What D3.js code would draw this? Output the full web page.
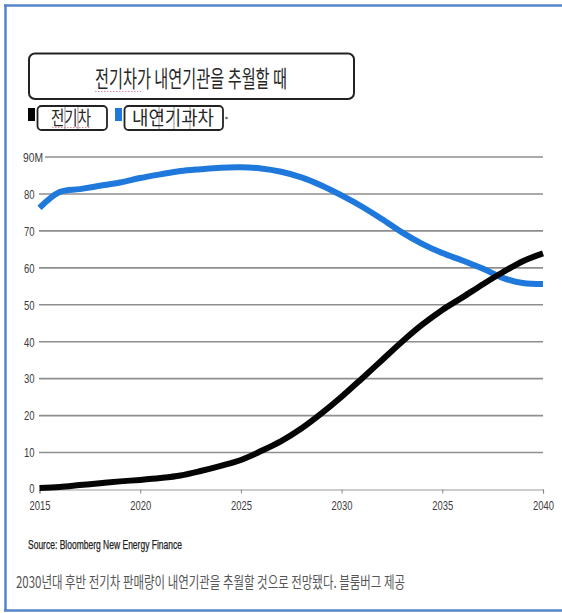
<!DOCTYPE html>
<html>
<head>
<meta charset="utf-8">
<script src="https://cdn.jsdelivr.net/npm/d3@7"></script>
<style>
  html, body { margin: 0; padding: 0; background: #fff; }
  svg { display: block; }
</style>
</head>
<body>
<script>
// Annual sales, millions of vehicles
const years = d3.range(2015, 2041);
const evSales = [0.4, 0.7, 1.2, 1.7, 2.2, 2.6, 3.1, 3.8, 5.0, 6.4, 8.0, 10.4, 13.1,
  16.5, 20.6, 25.1, 30.0, 35.0, 40.0, 44.6, 48.6, 52.0, 55.5, 58.8, 61.8, 63.9];
const iceSales = [76.2, 80.5, 81.3, 82.2, 83.1, 84.3, 85.3, 86.2, 86.7, 87.1, 87.2, 86.9, 86.0,
  84.5, 82.3, 79.6, 76.6, 73.2, 69.6, 66.5, 64.0, 62.0, 59.8, 57.3, 55.9, 55.6];
const yTicks = [0, 10, 20, 30, 40, 50, 60, 70, 80, 90];
const xTicks = [2015, 2020, 2025, 2030, 2035, 2040];
const seriesNames = ["전기차", "내연기과차"];
const title = "전기차가 내연기관을 추월할 때";
const source = "Source: Bloomberg New Energy Finance";
const caption = "2030년대 후반 전기차 판매량이 내연기관을 추월할 것으로 전망됐다. 블룸버그 제공";

const W = 562, H = 613;
const EV_COLOR = "#050505", ICE_COLOR = "#1f78dc";
const AXIS_FONT = "'Liberation Sans', Arial, sans-serif";
const KR_FONT = "'Noto Sans CJK KR', 'Noto Sans', sans-serif";

const svg = d3.select("body").append("svg").attr("width", W).attr("height", H);

// frame
const frame = svg.append("g").attr("stroke", "#5585c6").attr("fill", "none");
frame.append("line").attr("x1", 4).attr("x2", W).attr("y1", 5.5).attr("y2", 5.5).attr("stroke-width", 2.5);
frame.append("line").attr("x1", 5.5).attr("x2", 5.5).attr("y1", 4.5).attr("y2", 611).attr("stroke-width", 2.5);
frame.append("line").attr("x1", 4).attr("x2", W).attr("y1", 610.5).attr("y2", 610.5).attr("stroke-width", 2.5);

// title box
svg.append("rect").attr("x", 29).attr("y", 53.5).attr("width", 325).attr("height", 45.5)
  .attr("rx", 6).attr("fill", "#fff").attr("stroke", "#222").attr("stroke-width", 2);
svg.append("text").attr("x", 95).attr("y", 87).attr("font-family", KR_FONT)
  .attr("font-size", 23).attr("fill", "#262626")
  .attr("textLength", 192).attr("lengthAdjust", "spacingAndGlyphs").text(title);
// spell-check squiggle under the first word
svg.append("line").attr("x1", 95).attr("x2", 141).attr("y1", 91.5).attr("y2", 91.5)
  .attr("stroke", "#d98a95").attr("stroke-width", 1.2).attr("stroke-dasharray", "1.5,1.5");

// legend
const legend = [
  { name: seriesNames[0], color: EV_COLOR, sq: 28, box: [37.5, 107], text: [51, 40], bars: [65, 78] },
  { name: seriesNames[1], color: ICE_COLOR, sq: 115, box: [124.5, 223], text: [132, 82], bars: [159, 174, 190] }
];
legend.forEach(d => {
  svg.append("rect").attr("x", d.sq).attr("y", 108).attr("width", 7).attr("height", 13).attr("fill", d.color);
  svg.append("rect").attr("x", d.box[0]).attr("y", 106).attr("width", d.box[1] - d.box[0]).attr("height", 24)
    .attr("rx", 4).attr("fill", "#fff").attr("stroke", "#222").attr("stroke-width", 1.8);
  d.bars.forEach(bx => svg.append("line").attr("x1", bx).attr("x2", bx).attr("y1", 107).attr("y2", 129)
    .attr("stroke", "#777").attr("stroke-width", 0.8));
  svg.append("text").attr("x", d.text[0]).attr("y", 125).attr("font-family", KR_FONT)
    .attr("font-size", 19).attr("fill", "#262626")
    .attr("textLength", d.text[1]).attr("lengthAdjust", "spacingAndGlyphs").text(d.name);
});
svg.append("line").attr("x1", 52).attr("x2", 90).attr("y1", 127.5).attr("y2", 127.5)
  .attr("stroke", "#d98a95").attr("stroke-width", 1).attr("stroke-dasharray", "1.5,1.5");
svg.append("circle").attr("cx", 226.5).attr("cy", 118).attr("r", 1.3).attr("fill", "#666");

// scales
const x = d3.scaleLinear().domain([2015, 2040]).range([39.5, 543]);
const y = d3.scaleLinear().domain([0, 90]).range([489.5, 157]);

// gridlines
const grid = svg.append("g");
grid.selectAll("line").data(yTicks.filter(t => t > 0)).join("line")
  .attr("x1", t => t === 90 ? 45 : 39).attr("x2", x(2040))
  .attr("y1", t => y(t)).attr("y2", t => y(t))
  .attr("stroke", "#8e8e8e").attr("stroke-width", 1.6);

// y labels (top label carries the unit)
const yLab = svg.append("g").attr("font-family", AXIS_FONT).attr("font-size", 13.5).attr("fill", "#3c3c3c");
yTicks.forEach(t => {
  const top = t === 90;
  const s = top ? t + "M" : String(t);
  yLab.append("text")
    .attr("x", top ? 23 : 34.5).attr("y", y(t) + (t === 0 ? 3.5 : 4.8))
    .attr("text-anchor", top ? "start" : "end")
    .attr("textLength", top ? 20 : s.length * 5.3).attr("lengthAdjust", "spacingAndGlyphs").text(s);
});

// x axis
const xAxis = d3.axisBottom(x).tickValues(xTicks).tickFormat(d3.format("d")).tickSize(4).tickPadding(7);
const gx = svg.append("g").attr("transform", `translate(0,${y(0)})`).call(xAxis);
gx.select(".domain").attr("stroke", "#9a9a9a").attr("stroke-width", 1.2);
gx.selectAll(".tick line").attr("stroke", "#888").attr("stroke-width", 1);
gx.selectAll(".tick text").attr("font-family", AXIS_FONT).attr("font-size", 13.5).attr("fill", "#3c3c3c")
  .attr("textLength", 21).attr("lengthAdjust", "spacingAndGlyphs");

// series
const line = d3.line().x((d, i) => x(years[i])).y(d => y(d)).curve(d3.curveCatmullRom.alpha(0.5));
svg.append("path").datum(iceSales).attr("d", line).attr("fill", "none")
  .attr("stroke", ICE_COLOR).attr("stroke-width", 6).attr("stroke-linejoin", "round");
svg.append("path").datum(evSales).attr("d", line).attr("fill", "none")
  .attr("stroke", EV_COLOR).attr("stroke-width", 6).attr("stroke-linejoin", "round");

// source and caption
svg.append("text").attr("x", 28).attr("y", 549).attr("font-family", AXIS_FONT)
  .attr("font-size", 12).attr("fill", "#1e1e1e").attr("stroke", "#1e1e1e").attr("stroke-width", 0.25)
  .attr("textLength", 154).attr("lengthAdjust", "spacingAndGlyphs").text(source);
svg.append("text").attr("x", 16).attr("y", 588).attr("font-family", KR_FONT)
  .attr("font-size", 15.5).attr("fill", "#555")
  .attr("textLength", 389).attr("lengthAdjust", "spacingAndGlyphs").text(caption);
</script>
</body>
</html>
